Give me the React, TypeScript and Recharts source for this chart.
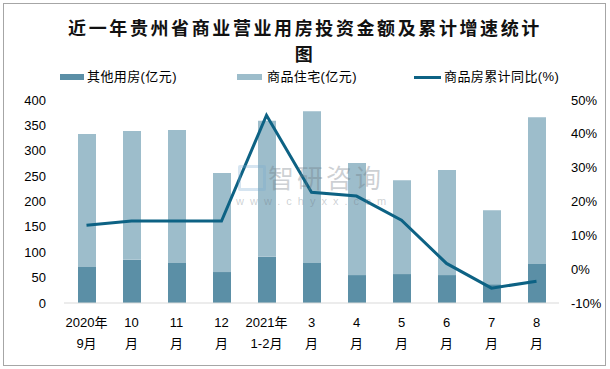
import React from "react";
import { ComposedChart, Bar, Line, XAxis, YAxis } from "recharts";

const monthTop = ["2020年", "10", "11", "12", "2021年", "3", "4", "5", "6", "7", "8"];
const monthBottom = ["9月", "月", "月", "月", "1-2月", "月", "月", "月", "月", "月", "月"];
const otherBuildings = [71, 85, 79, 61, 91, 79, 55, 57, 55, 37, 77];
const residential = [262, 254, 262, 195, 268, 299, 221, 185, 207, 146, 289];
const growthPct = [13.0, 14.2, 14.2, 14.2, 45.5, 22.7, 21.6, 14.5, 1.7, -5.6, -3.6];

const leftTicks = [0, 50, 100, 150, 200, 250, 300, 350, 400];
const rightTicks = [-10, 0, 10, 20, 30, 40, 50];

const data = monthTop.map((m, i) => ({
  key: m + monthBottom[i],
  other: otherBuildings[i],
  residential: residential[i],
  growth: growthPct[i],
}));

const LOWER = "#5b8fa6";
const UPPER = "#9dbdcb";
const LINE = "#0d6284";
const FONT = "'Liberation Sans', 'Noto Sans CJK SC', sans-serif";

const MonthTick = (props: any) => {
  const { x, y, payload } = props;
  const i = payload.index;
  return (
    <text x={x} y={y} textAnchor="middle" fontSize={13} fill="#000" fontFamily={FONT}>
      <tspan x={x} dy={16}>{monthTop[i]}</tspan>
      <tspan x={x} dy={21}>{monthBottom[i]}</tspan>
    </text>
  );
};

const legendText: React.CSSProperties = {
  position: "absolute",
  top: 69,
  fontSize: 13,
  fontFamily: FONT,
  color: "#000",
  lineHeight: "16px",
  whiteSpace: "nowrap",
  letterSpacing: 0.4,
};

export default function App() {
  return (
    <div style={{ position: "absolute", left: 0, top: 0, width: 610, height: 369, background: "#fff" }}>
      <div
        style={{
          position: "absolute",
          left: 3,
          top: 3,
          width: 601,
          height: 361,
          border: "1px solid #a6a6a6",
        }}
      />
      <div
        style={{
          position: "absolute",
          left: 0,
          top: 14,
          width: 610,
          textAlign: "center",
          fontSize: 18,
          fontWeight: "bold",
          lineHeight: "26px",
          letterSpacing: 2.6,
          fontFamily: "'Noto Sans CJK SC', sans-serif",
          color: "#111",
        }}
      >
        <div>近一年贵州省商业营业用房投资金额及累计增速统计</div>
        <div>图</div>
      </div>

      <div style={{ position: "absolute", left: 60, top: 74, width: 24, height: 6, background: LOWER }} />
      <div style={{ ...legendText, left: 87 }}>其他用房(亿元)</div>
      <div style={{ position: "absolute", left: 237, top: 74, width: 25, height: 6, background: UPPER }} />
      <div style={{ ...legendText, left: 267 }}>商品住宅(亿元)</div>
      <div style={{ position: "absolute", left: 414, top: 76, width: 27, height: 3, background: LINE }} />
      <div style={{ ...legendText, left: 444 }}>商品房累计同比(%)</div>

      <div style={{ position: "absolute", left: 0, top: 0 }}>
        <ComposedChart width={610} height={369} data={data} margin={{ top: 100, right: 0, bottom: 0, left: 0 }}>
          <XAxis
            dataKey="key"
            height={66}
            interval={0}
            tickLine={false}
            axisLine={{ stroke: "#d9d9d9" }}
            tick={<MonthTick />}
          />
          <YAxis
            yAxisId="left"
            width={64}
            domain={[0, 400]}
            ticks={leftTicks}
            axisLine={false}
            tickLine={false}
            tickMargin={12}
            tick={{ fontSize: 13, fill: "#000", fontFamily: FONT }}
          />
          <YAxis
            yAxisId="right"
            orientation="right"
            width={51}
            domain={[-10, 50]}
            ticks={rightTicks}
            axisLine={false}
            tickLine={false}
            tickMargin={6}
            tickFormatter={(v: number) => `${v}%`}
            tick={{ fontSize: 13, fill: "#000", fontFamily: FONT }}
          />
          <Bar yAxisId="left" dataKey="other" stackId="a" fill={LOWER} barSize={18} isAnimationActive={false} />
          <Bar yAxisId="left" dataKey="residential" stackId="a" fill={UPPER} barSize={18} isAnimationActive={false} />
          <Line
            yAxisId="right"
            type="linear"
            dataKey="growth"
            stroke={LINE}
            strokeWidth={3}
            dot={false}
            isAnimationActive={false}
          />
        </ComposedChart>
      </div>

      <div
        style={{
          position: "absolute",
          left: 236,
          top: 162,
          color: "rgba(110,120,130,0.35)",
          fontFamily: "'Noto Sans CJK SC', sans-serif",
          pointerEvents: "none",
        }}
      >
        <div
          style={{
            position: "absolute",
            left: 2,
            top: 3,
            width: 22,
            height: 20,
            border: "3px solid rgba(120,170,210,0.3)",
            borderRadius: 2,
          }}
        />
        <div style={{ fontSize: 26, lineHeight: "30px", letterSpacing: 3, paddingLeft: 32 }}>智研咨询</div>
        <div style={{ marginTop: 2, fontSize: 11, lineHeight: "14px", letterSpacing: 6, fontFamily: FONT }}>
          www.chyxx.com
        </div>
      </div>
    </div>
  );
}
